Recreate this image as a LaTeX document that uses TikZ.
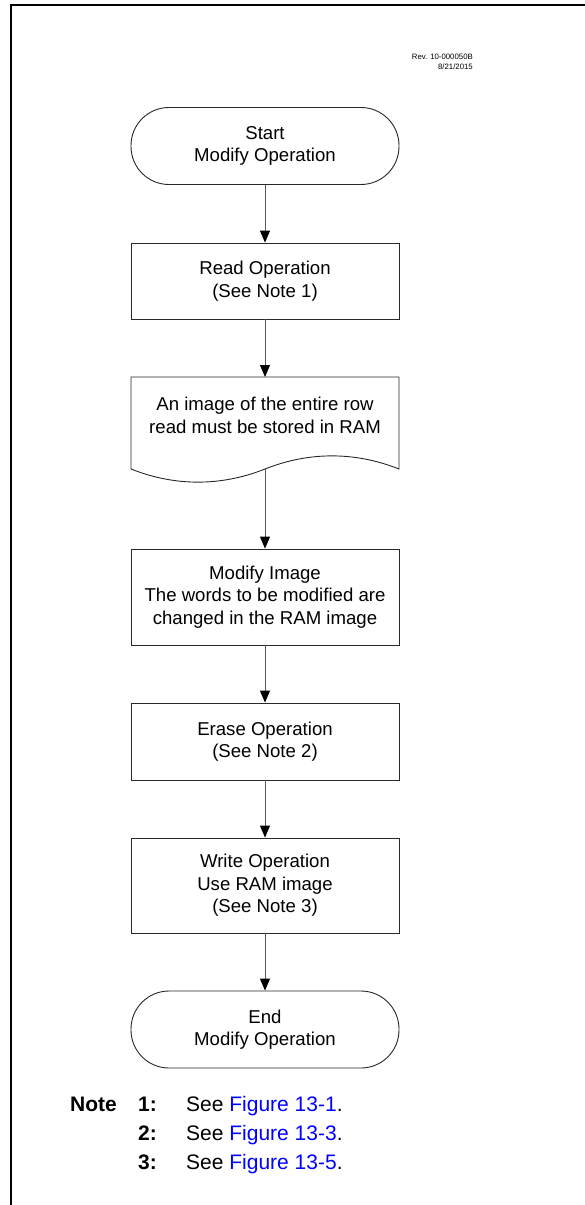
\documentclass[tikz,border=0pt]{standalone}
\usepackage{fontspec}
\setmainfont{Liberation Sans}
\usetikzlibrary{arrows.meta}
\definecolor{linkblue}{RGB}{0,0,255}
\definecolor{boxline}{RGB}{40,40,40}
\definecolor{arrowline}{RGB}{90,90,90}
\begin{document}
\begin{tikzpicture}[x=1pt,y=-1pt,
  boxtext/.style={font=\fontsize{18.6}{22.6}\selectfont, align=center, text=black},
  procbox/.style={boxtext, draw=boxline, line width=0.9pt, rectangle, minimum width=268pt, inner sep=0pt},
  termbox/.style={procbox, rounded corners=38pt, minimum height=77pt},
  flow/.style={draw=arrowline, line width=1pt, -{Triangle[length=12pt,width=10pt,color=black]}},
  notetext/.style={font=\fontsize{21}{29}\selectfont, inner sep=0pt},
  revtext/.style={font=\fontsize{7.8}{10}\selectfont, align=right, inner sep=0pt}
]
\useasboundingbox (0,0) rectangle (585,1205);
% frame
\draw[line width=2pt] (11,1207) -- (11,5) -- (587,5);
% revision
\node[revtext, anchor=east] (rev) at (473,62) {Rev. 10-000050B\\8/21/2015};
% flow nodes
\node[termbox] (start) at (265,146) {Start\\Modify Operation};
\node[procbox, minimum height=76pt] (read) at (265,281) {Read Operation\\(See Note 1)};
% document shape
\node[boxtext, inner sep=0pt] (doc) at (265,415.5) {An image of the entire row\\read must be stored in RAM};
\coordinate (doctop) at (265,377);
\coordinate (docbot) at (265,469);
\draw[boxline, line width=0.9pt] (131,469) -- (131,377) -- (399,377) -- (399,469)
  .. controls (355,451.5) and (309,451.5) .. (265,469)
  .. controls (221,486.5) and (175,486.5) .. (131,469) -- cycle;
\node[procbox, minimum height=96pt] (modify) at (265,597) {Modify Image\\The words to be modified are\\changed in the RAM image};
\node[procbox, minimum height=77pt] (erase) at (265,741.5) {Erase Operation\\(See Note 2)};
\node[procbox, minimum height=95pt] (write) at (265,885.5) {Write Operation\\Use RAM image\\(See Note 3)};
\node[termbox] (end) at (265,1029.5) {End\\Modify Operation};
% connectors
\draw[flow] (start.south) -- (read.north);
\draw[flow] (read.south) -- (doctop);
\draw[flow] (docbot) -- (modify.north);
\draw[flow] (modify.south) -- (erase.north);
\draw[flow] (erase.south) -- (write.north);
\draw[flow] (write.south) -- (end.north);
% notes
\node[notetext, anchor=base east] (notehead) at (117,1111) {\bfseries Note};
\node[notetext, anchor=base west] (n1) at (138,1111) {\bfseries 1:};
\node[notetext, anchor=base west] (t1) at (186,1111) {See \textcolor{linkblue}{Figure 13-1}.};
\node[notetext, anchor=base west] (n2) at (138,1140) {\bfseries 2:};
\node[notetext, anchor=base west] (t2) at (186,1140) {See \textcolor{linkblue}{Figure 13-3}.};
\node[notetext, anchor=base west] (n3) at (138,1169) {\bfseries 3:};
\node[notetext, anchor=base west] (t3) at (186,1169) {See \textcolor{linkblue}{Figure 13-5}.};
\end{tikzpicture}
\end{document}
